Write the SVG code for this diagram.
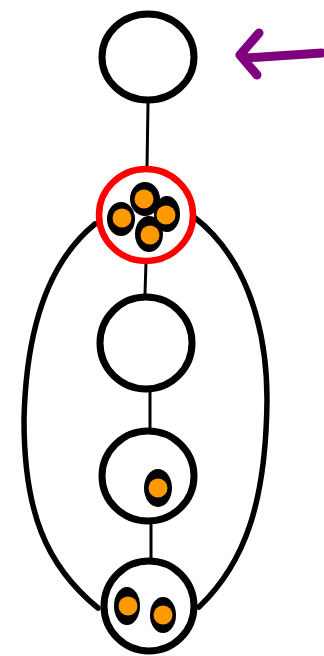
<svg xmlns="http://www.w3.org/2000/svg" width="324" height="656" viewBox="0 0 324 656">
<style>
.node{fill:#fff;stroke:#000;stroke-width:7}
.sel{fill:#fff;stroke:#ff0000;stroke-width:6.5}
.edge{fill:none;stroke:#000;stroke-width:3;stroke-linecap:round}
.loop{fill:none;stroke:#000;stroke-width:5.5;stroke-linecap:round}
.pb{fill:#000}
.po{fill:#ff9900}
.arrow{fill:none;stroke:#800080;stroke-width:9;stroke-linecap:round;stroke-linejoin:round}
</style>
<rect width="324" height="656" fill="#fff"/>
<g id="connectors">
<line class="edge" x1="148" y1="103" x2="147" y2="168"/>
<line class="edge" x1="146" y1="262" x2="145" y2="294"/>
<line class="edge" x1="150" y1="391" x2="150" y2="428"/>
<line class="edge" x1="151" y1="525" x2="151" y2="560"/>
<path class="loop" d="M95 224 C48 262 26 330 24 420 C24 510 45 565 98 608"/>
<path class="loop" d="M194 217 C242 254 267 320 267 400 C266 500 246 562 199 607"/>
</g>
<g id="n1"><ellipse class="node" cx="148" cy="57" rx="46" ry="43"/></g>
<g id="arrow"><path class="arrow" d="M322 53 L246 58 M259 33 L240 55 L257 75"/></g>
<g id="n2">
<ellipse class="sel" cx="146" cy="215" rx="47" ry="46"/>
<ellipse class="pb" cx="145" cy="199" rx="15" ry="17"/>
<ellipse class="pb" cx="121" cy="219" rx="14" ry="17"/>
<ellipse class="pb" cx="167" cy="214" rx="13" ry="18"/>
<ellipse class="pb" cx="149" cy="234" rx="14" ry="18"/>
<circle class="po" cx="144" cy="199" r="9.5"/>
<circle class="po" cx="122" cy="218" r="9.5"/>
<circle class="po" cx="166" cy="215" r="9.5"/>
<circle class="po" cx="150" cy="235" r="9.5"/>
</g>
<g id="n3"><ellipse class="node" cx="146" cy="343" rx="46" ry="46"/></g>
<g id="n4">
<ellipse class="node" cx="148" cy="476" rx="46" ry="45"/>
<ellipse class="pb" cx="158" cy="488" rx="14" ry="19"/>
<circle class="po" cx="158" cy="488" r="9.5"/>
</g>
<g id="n5">
<ellipse class="node" cx="149" cy="606" rx="45" ry="45"/>
<ellipse class="pb" cx="127" cy="606" rx="13" ry="19"/>
<circle class="po" cx="128" cy="606" r="9.5"/>
<ellipse class="pb" cx="163" cy="615" rx="13" ry="18"/>
<circle class="po" cx="163" cy="615" r="9.5"/>
</g>
</svg>
